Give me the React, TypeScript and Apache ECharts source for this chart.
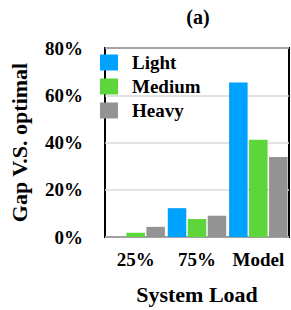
import React, { useEffect, useRef } from "react";
import * as echarts from "echarts";

const categories = ["25%", "75%", "Model"];
const seriesNames = ["Light", "Medium", "Heavy"];
const lightValues = [0, 12.2, 65.4];
const mediumValues = [1.8, 7.6, 41.2];
const heavyValues = [4.3, 9.0, 33.9];
const colors = ["#00A2FF", "#5CD63A", "#939393"];

const FONT = "'Liberation Serif', 'Times New Roman', serif";

export default function App() {
  const ref = useRef<HTMLDivElement>(null);
  useEffect(() => {
    if (!ref.current) return;
    const chart = echarts.init(ref.current, null, { renderer: "svg" });
    const data = [lightValues, mediumValues, heavyValues];
    chart.setOption({
      animation: false,
      textStyle: { fontFamily: FONT, fontWeight: "bold", color: "#000" },
      title: {
        text: "(a)",
        left: 193,
        top: 2,
        textAlign: "center",
        textStyle: { fontFamily: FONT, fontWeight: "bold", fontSize: 20, color: "#000" },
      },
      legend: {
        orient: "vertical",
        left: 95,
        top: 48,
        itemWidth: 18,
        itemHeight: 16,
        itemGap: 5,
        icon: "rect",
        data: seriesNames,
        textStyle: { fontFamily: FONT, fontWeight: "bold", fontSize: 19, color: "#000", padding: [0, 0, 0, 9] },
      },
      grid: {
        left: 96,
        right: 2,
        top: 48,
        bottom: 69,
        show: true,
        borderColor: "#000",
        borderWidth: 2,
        containLabel: false,
      },
      xAxis: {
        type: "category",
        data: categories,
        name: "System Load",
        nameLocation: "middle",
        nameGap: 46,
        nameTextStyle: { fontFamily: FONT, fontWeight: "bold", fontSize: 22, color: "#000" },
        axisLine: { show: false },
        axisTick: { show: false },
        axisLabel: { interval: 0, fontFamily: FONT, fontWeight: "bold", fontSize: 19, color: "#000", margin: 13 },
      },
      yAxis: {
        type: "value",
        min: 0,
        max: 80,
        interval: 20,
        name: "Gap V.S. optimal",
        nameLocation: "middle",
        nameGap: 75,
        nameTextStyle: { fontFamily: FONT, fontWeight: "bold", fontSize: 22, color: "#000" },
        axisLine: { show: false },
        axisTick: { show: false },
        axisLabel: {
          formatter: "{value}%",
          fontFamily: FONT,
          fontWeight: "bold",
          fontSize: 19,
          color: "#000",
          margin: 22,
        },
        splitLine: { lineStyle: { color: "#d9d9d9", width: 1.5 } },
      },
      series: seriesNames.map((name, i) => ({
        name,
        type: "bar",
        data: data[i],
        barWidth: 18.5,
        barGap: "8%",
        itemStyle: { color: colors[i] },
      })),
    });
    return () => chart.dispose();
  }, []);
  return <div ref={ref} style={{ width: 291, height: 310, position: "absolute", left: 0, top: 0 }} />;
}
